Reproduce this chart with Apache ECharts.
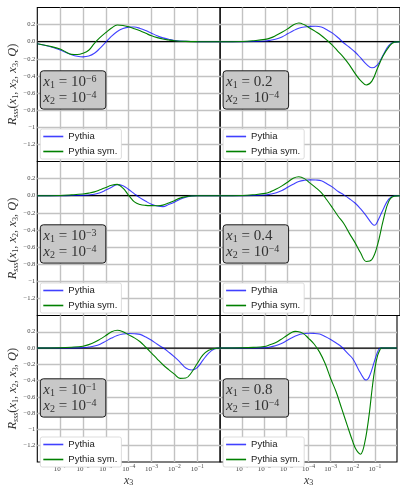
<!DOCTYPE html>
<html><head><meta charset="utf-8">
<script src="https://cdn.jsdelivr.net/npm/echarts@6/dist/echarts.min.js"></script>
<style>html,body{margin:0;padding:0;background:#fff}#c{width:400px;height:488px}</style>
</head><body><div id="c"></div>
<script>
// ---- data (x3, R_sss) ----
const seriesNames = ['Pythia', 'Pythia sym.'];
const x1Base = ['10', '0.2', '10', '0.4', '10', '0.8'];
const x1Exp  = ['−6', '', '−3', '', '−1', ''];
const x2Base = '10', x2Exp = '−4';
const yTicks = [0.2, 0.0, -0.2, -0.4, -0.6, -0.8, -1.0, -1.2];
const yTickLabels = ['0.2', '0.0', '−0.2', '−0.4', '−0.6', '−0.8', '−1', '−1.2'];
const xTickExps = [-7, -6, -5, -4, -3, -2, -1];
const xTickLabels = ['−7', '−6', '−5', '−4', '−3', '−2', '−1'];

// panel 1: x1 = 1e-6
const p1Pythia = [[1e-8,-0.023],[3.16e-8,-0.054],[1e-7,-0.097],[1.78e-7,-0.125],[3.16e-7,-0.152],[5.62e-7,-0.17],[1e-6,-0.177],[1.78e-6,-0.168],[3.16e-6,-0.135],[5.62e-6,-0.075],[1e-5,-0.005],[1.78e-5,0.065],[3.16e-5,0.12],[5.62e-5,0.155],[1e-4,0.171],[1.78e-4,0.172],[3.16e-4,0.155],[5.62e-4,0.13],[1e-3,0.10],[1.78e-3,0.07],[3.16e-3,0.045],[5.62e-3,0.028],[1e-2,0.015],[3.16e-2,0.005],[0.1,0.001],[1,0]];
const p1Sym = [[1e-8,-0.023],[3.16e-8,-0.05],[1e-7,-0.085],[1.78e-7,-0.12],[3.16e-7,-0.148],[5.62e-7,-0.15],[1e-6,-0.135],[1.78e-6,-0.1],[3.16e-6,-0.018],[5.62e-6,0.05],[1e-5,0.108],[1.78e-5,0.16],[3.16e-5,0.195],[5.62e-5,0.19],[1e-4,0.174],[1.78e-4,0.152],[3.16e-4,0.127],[5.62e-4,0.098],[1e-3,0.07],[1.78e-3,0.048],[3.16e-3,0.031],[5.62e-3,0.02],[1e-2,0.012],[3.16e-2,0.004],[0.1,0.001],[1,0]];
// panel 2: x1 = 0.2
const p2Pythia = [[1e-8,0],[1e-7,0.001],[3.16e-7,0.003],[1e-6,0.008],[1.78e-6,0.018],[3.16e-6,0.032],[5.62e-6,0.055],[1e-5,0.092],[1.78e-5,0.128],[3.16e-5,0.158],[5.62e-5,0.173],[1e-4,0.179],[1.78e-4,0.18],[3.16e-4,0.172],[5.62e-4,0.14],[1e-3,0.1],[1.78e-3,0.046],[3.16e-3,-0.015],[5.62e-3,-0.065],[1e-2,-0.12],[1.78e-2,-0.19],[3.16e-2,-0.262],[5.62e-2,-0.305],[0.1,-0.27],[0.178,-0.155],[0.316,-0.045],[0.562,-0.005],[1,0]];
const p2Sym = [[1e-8,0],[1e-7,0.003],[3.16e-7,0.012],[1e-6,0.027],[1.78e-6,0.045],[3.16e-6,0.075],[5.62e-6,0.11],[1e-5,0.15],[1.78e-5,0.195],[3.16e-5,0.218],[5.62e-5,0.197],[1e-4,0.158],[1.78e-4,0.118],[3.16e-4,0.073],[5.62e-4,0.018],[1e-3,-0.042],[1.78e-3,-0.115],[3.16e-3,-0.185],[5.62e-3,-0.27],[1e-2,-0.37],[1.78e-2,-0.455],[3.16e-2,-0.505],[5.62e-2,-0.46],[0.1,-0.31],[0.178,-0.165],[0.316,-0.062],[0.562,-0.005],[1,0]];
// panel 3: x1 = 1e-3
const p3Pythia = [[1e-8,0],[1e-7,0.001],[3.16e-7,0.002],[1e-6,0.004],[1.78e-6,0.009],[3.16e-6,0.017],[5.62e-6,0.035],[1e-5,0.066],[1.78e-5,0.1],[3.16e-5,0.13],[5.62e-5,0.117],[1e-4,0.072],[1.78e-4,0.022],[3.16e-4,-0.025],[5.62e-4,-0.065],[1e-3,-0.1],[1.78e-3,-0.12],[3.16e-3,-0.127],[5.62e-3,-0.103],[1e-2,-0.075],[1.78e-2,-0.04],[3.16e-2,-0.018],[5.62e-2,-0.004],[0.1,0],[1,0]];
const p3Sym = [[1e-8,0],[1e-7,0.003],[3.16e-7,0.01],[1e-6,0.02],[1.78e-6,0.03],[3.16e-6,0.045],[5.62e-6,0.07],[1e-5,0.097],[1.78e-5,0.122],[3.16e-5,0.133],[5.62e-5,0.088],[1e-4,0.005],[1.78e-4,-0.072],[3.16e-4,-0.103],[5.62e-4,-0.113],[1e-3,-0.116],[1.78e-3,-0.117],[3.16e-3,-0.11],[5.62e-3,-0.085],[1e-2,-0.058],[1.78e-2,-0.028],[3.16e-2,-0.012],[5.62e-2,-0.003],[0.1,0],[1,0]];
// panel 4: x1 = 0.4
const p4Pythia = [[1e-8,0],[1e-7,0.001],[3.16e-7,0.003],[1e-6,0.008],[1.78e-6,0.02],[3.16e-6,0.035],[5.62e-6,0.062],[1e-5,0.098],[1.78e-5,0.135],[3.16e-5,0.166],[5.62e-5,0.18],[1e-4,0.185],[1.78e-4,0.183],[3.16e-4,0.175],[5.62e-4,0.14],[1e-3,0.1],[1.78e-3,0.05],[3.16e-3,0.01],[5.62e-3,-0.035],[1e-2,-0.085],[1.78e-2,-0.155],[3.16e-2,-0.236],[5.62e-2,-0.325],[7.5e-2,-0.346],[0.1,-0.3],[0.178,-0.16],[0.316,-0.04],[0.562,0],[1,0]];
const p4Sym = [[1e-8,0],[1e-7,0.003],[3.16e-7,0.012],[1e-6,0.027],[1.78e-6,0.048],[3.16e-6,0.078],[5.62e-6,0.115],[1e-5,0.158],[1.78e-5,0.205],[3.16e-5,0.222],[5.62e-5,0.2],[1e-4,0.147],[1.78e-4,0.095],[3.16e-4,0.035],[5.62e-4,-0.05],[1e-3,-0.143],[1.78e-3,-0.24],[3.16e-3,-0.325],[5.62e-3,-0.44],[1e-2,-0.548],[1.78e-2,-0.67],[3.16e-2,-0.768],[5.62e-2,-0.745],[0.1,-0.575],[0.178,-0.29],[0.316,-0.066],[0.562,-0.005],[1,0]];
// panel 5: x1 = 0.1
const p5Pythia = [[1e-8,0],[1e-7,0.001],[3.16e-7,0.002],[1e-6,0.004],[1.78e-6,0.012],[3.16e-6,0.025],[5.62e-6,0.048],[1e-5,0.085],[1.78e-5,0.123],[3.16e-5,0.154],[5.62e-5,0.172],[1e-4,0.178],[1.78e-4,0.175],[3.16e-4,0.168],[5.62e-4,0.135],[1e-3,0.095],[1.78e-3,0.046],[3.16e-3,0.003],[5.62e-3,-0.05],[1e-2,-0.108],[1.78e-2,-0.175],[3.16e-2,-0.245],[5.62e-2,-0.27],[0.1,-0.24],[0.178,-0.148],[0.316,-0.062],[0.562,-0.012],[1,0]];
const p5Sym = [[1e-8,0],[1e-7,0.003],[3.16e-7,0.01],[1e-6,0.023],[1.78e-6,0.042],[3.16e-6,0.07],[5.62e-6,0.11],[1e-5,0.154],[1.78e-5,0.2],[3.16e-5,0.218],[5.62e-5,0.2],[1e-4,0.162],[1.78e-4,0.125],[3.16e-4,0.077],[5.62e-4,0.01],[1e-3,-0.062],[1.78e-3,-0.135],[3.16e-3,-0.205],[5.62e-3,-0.265],[1e-2,-0.32],[1.78e-2,-0.372],[3.16e-2,-0.368],[5.62e-2,-0.3],[0.1,-0.19],[0.178,-0.085],[0.316,-0.028],[0.562,-0.006],[1,0]];
// panel 6: x1 = 0.8
const p6Pythia = [[1e-8,0],[1e-7,0.001],[3.16e-7,0.002],[1e-6,0.004],[1.78e-6,0.013],[3.16e-6,0.028],[5.62e-6,0.052],[1e-5,0.089],[1.78e-5,0.127],[3.16e-5,0.158],[5.62e-5,0.175],[1e-4,0.181],[1.78e-4,0.18],[3.16e-4,0.172],[5.62e-4,0.142],[1e-3,0.105],[1.78e-3,0.062],[3.16e-3,0.013],[5.62e-3,-0.06],[1e-2,-0.131],[1.78e-2,-0.26],[3.16e-2,-0.375],[3.98e-2,-0.392],[5.62e-2,-0.35],[0.1,-0.145],[0.141,-0.03],[0.178,0],[1,0]];
const p6Sym = [[1e-8,0],[1e-7,0.003],[3.16e-7,0.008],[1e-6,0.019],[1.78e-6,0.04],[3.16e-6,0.065],[5.62e-6,0.105],[1e-5,0.151],[1.78e-5,0.195],[2.51e-5,0.205],[3.16e-5,0.203],[5.62e-5,0.18],[1e-4,0.12],[1.78e-4,0.05],[3.16e-4,-0.05],[5.62e-4,-0.19],[1e-3,-0.374],[1.78e-3,-0.54],[3.16e-3,-0.745],[5.62e-3,-0.95],[1e-2,-1.15],[1.33e-2,-1.235],[1.78e-2,-1.285],[2.24e-2,-1.305],[2.82e-2,-1.26],[3.55e-2,-1.15],[4.22e-2,-1.04],[5.62e-2,-0.8],[7.5e-2,-0.5],[0.1,-0.25],[0.133,-0.09],[0.178,-0.01],[0.19,0],[1,0]];
const zeroLine = [[1e-8,0],[1,0]];

const panelPythia = [p1Pythia, p2Pythia, p3Pythia, p4Pythia, p5Pythia, p6Pythia];
const panelSym = [p1Sym, p2Sym, p3Sym, p4Sym, p5Sym, p6Sym];

// ---- layout / style ----
const colLeft = [37.3, 220.1], colW = 182.8;
const rowTop = [7.5, 161.5, 315.5], rowH = 154;
const blue = 'rgba(0,0,255,0.75)', green = '#008000';
const gridCol = '#c2c2c2';
const serif = 'Liberation Serif';

const grids = [], xAxes = [], yAxes = [], series = [], legends = [], graphics = [];

const yLabelFmt = v => {
  const i = yTicks.findIndex(t => Math.abs(t - v) < 1e-6);
  return i < 0 ? '' : yTickLabels[i];
};
const xLabelFmt = v => {
  const e = Math.round(Math.log10(v));
  const i = xTickExps.indexOf(e);
  return i < 0 ? '' : '{b|10}{p|' + xTickLabels[i] + '}';
};

for (let p = 0; p < 6; p++) {
  const r = Math.floor(p / 2), c = p % 2;
  const L = colLeft[c], T = rowTop[r];
  grids.push({left: L, top: T, width: colW, height: rowH, show: true,
    borderColor: '#000', borderWidth: 1.1, backgroundColor: 'transparent'});
  xAxes.push({
    gridIndex: p, type: 'log', logBase: 10, min: 1e-8, max: 1, interval: 1, splitNumber: 8,
    axisLine: {show: false}, axisTick: {show: false},
    splitLine: {show: true, showMinLine: false, showMaxLine: false, lineStyle: {color: gridCol, width: 1.4}},
    axisLabel: {show: r === 2, margin: 2, formatter: xLabelFmt,
      rich: {b: {fontFamily: serif, fontSize: 7, color: '#444', lineHeight: 9, verticalAlign: 'bottom'},
             p: {fontFamily: serif, fontSize: 5.6, color: '#444', lineHeight: 6, verticalAlign: 'top'}}},
    name: r === 2 ? '{i|x}{s|3}' : '', nameLocation: 'middle', nameGap: 12,
    nameTextStyle: {rich: {i: {fontFamily: serif, fontStyle: 'italic', fontSize: 12, color: '#333', lineHeight: 13},
                           s: {fontFamily: serif, fontSize: 8, color: '#333', lineHeight: 7, verticalAlign: 'bottom'}}}
  });
  yAxes.push({
    gridIndex: p, type: 'value', min: -1.4, max: 0.4, interval: 0.2,
    axisLine: {show: false}, axisTick: {show: false},
    splitLine: {show: true, showMinLine: false, showMaxLine: false, lineStyle: {color: gridCol, width: 1.4}},
    axisLabel: {show: c === 0, margin: 2, formatter: yLabelFmt, fontFamily: serif, fontSize: 6.5, color: '#444'},
    name: c === 0 ? '{i|R}{s|sss}{n|(}{i|x}{t|1}{n|, }{i|x}{t|2}{n|, }{i|x}{t|3}{n|, }{i|Q}{n|)}' : '',
    nameLocation: 'middle', nameGap: 13, nameRotate: 90,
    nameTextStyle: {rich: {
      i: {fontFamily: serif, fontStyle: 'italic', fontSize: 12.5, color: '#333', lineHeight: 14},
      n: {fontFamily: serif, fontSize: 12.5, color: '#333', lineHeight: 14},
      s: {fontFamily: serif, fontStyle: 'italic', fontSize: 8, color: '#333', lineHeight: 7, verticalAlign: 'bottom'},
      t: {fontFamily: serif, fontSize: 8, color: '#333', lineHeight: 7, verticalAlign: 'bottom'}}}
  });
  series.push({name: 'zero', type: 'line', xAxisIndex: p, yAxisIndex: p, data: zeroLine,
    symbol: 'none', silent: true, lineStyle: {color: '#000', width: 1.2}, itemStyle: {color: '#000'}});
  series.push({name: seriesNames[0], type: 'line', xAxisIndex: p, yAxisIndex: p, data: panelPythia[p],
    symbol: 'none', smooth: 0.4, lineStyle: {color: blue, width: 1.1}, itemStyle: {color: blue}});
  series.push({name: seriesNames[1], type: 'line', xAxisIndex: p, yAxisIndex: p, data: panelSym[p],
    symbol: 'none', smooth: 0.4, lineStyle: {color: green, width: 1.1}, itemStyle: {color: green}});
  legends.push({
    data: seriesNames, left: L + 3, top: T + 121.5, orient: 'vertical',
    icon: 'rect', itemWidth: 20, itemHeight: 1.6, itemGap: 4,
    padding: [2, 4, 2, 3], backgroundColor: '#fff', borderColor: '#d4d4d4', borderWidth: 0.8, borderRadius: 2,
    selectedMode: false,
    textStyle: {fontFamily: 'Liberation Sans', fontSize: 9.5, color: '#222', lineHeight: 11}
  });
  const bx = L + 3, by = T + 63.3, bw = 65.5, bh = 38.3;
  graphics.push({type: 'rect', shape: {x: bx, y: by, width: bw, height: bh, r: 3},
    style: {fill: '#c8c8c8', stroke: '#1a1a1a', lineWidth: 1}, z: 100, silent: true});
  const line1 = '{i|x}{s|1}{n| = ' + x1Base[p] + '}' + (x1Exp[p] ? '{p|' + x1Exp[p] + '}' : '');
  const line2 = '{i|x}{s|2}{n| = ' + x2Base + '}{p|' + x2Exp + '}';
  graphics.push({type: 'text', x: bx + 3, y: by + bh / 2, z: 101, silent: true,
    style: {text: line1 + '\n' + line2, verticalAlign: 'middle', align: 'left',
      rich: {
        i: {fontFamily: serif, fontStyle: 'italic', fontSize: 15, fill: '#333', lineHeight: 16},
        n: {fontFamily: serif, fontSize: 15, fill: '#333', lineHeight: 16},
        s: {fontFamily: serif, fontSize: 10, fill: '#333', lineHeight: 8, verticalAlign: 'bottom'},
        p: {fontFamily: serif, fontSize: 10, fill: '#333', lineHeight: 8, verticalAlign: 'top'}
      }}});
}

const chart = echarts.init(document.getElementById('c'));
chart.setOption({
  animation: false, backgroundColor: '#fff',
  grid: grids, xAxis: xAxes, yAxis: yAxes, series: series, legend: legends, graphic: graphics
});
</script></body></html>
